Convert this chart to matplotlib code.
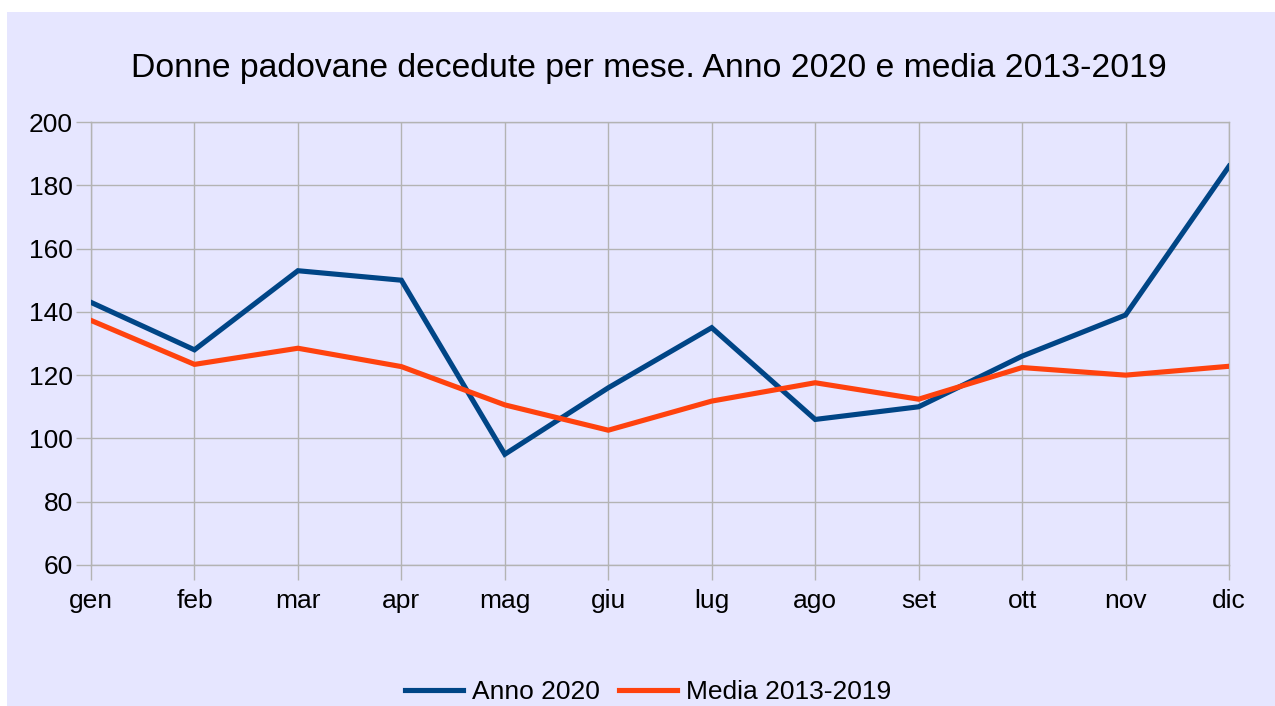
import matplotlib
matplotlib.use("Agg")
import matplotlib.pyplot as plt
from matplotlib.patches import Rectangle

plt.rcParams['font.family'] = ['Liberation Sans', 'DejaVu Sans']

mesi = ['gen', 'feb', 'mar', 'apr', 'mag', 'giu', 'lug', 'ago', 'set', 'ott', 'nov', 'dic']
anno_2020 = [143, 128, 153, 150, 95, 116, 135, 106, 110, 126, 139, 186]
media_2013_2019 = [137.3, 123.4, 128.5, 122.7, 110.6, 102.6, 111.8, 117.6, 112.4, 122.4, 120.0, 122.8]

bg = '#e6e6ff'
grid_c = '#b3b3b3'

W, H = 1275, 706
fig = plt.figure(figsize=(W / 100, H / 100), dpi=100)
fig.patch.set_facecolor('white')
fig.patches.append(Rectangle((7 / W, 0), 1 - 7 / W, 1 - 12 / H,
                             transform=fig.transFigure, facecolor=bg,
                             edgecolor='none', zorder=-10))

ax = fig.add_axes([91 / W, 1 - 565 / H, (1229 - 91) / W, (565 - 122) / H])
ax.set_facecolor(bg)

x = range(len(mesi))
ax.plot(x, anno_2020, color='#004586', lw=3.7, label='Anno 2020',
        solid_joinstyle='miter', zorder=3)
ax.plot(x, media_2013_2019, color='#ff420e', lw=3.7, label='Media 2013-2019',
        solid_joinstyle='miter', zorder=3)

ax.set_xlim(0, len(mesi) - 1)
ax.set_ylim(60, 200)
ax.set_yticks(range(60, 201, 20))
ax.set_xticks(list(x))
ax.set_xticklabels(mesi)
ax.grid(True, color=grid_c, lw=1)
ax.set_axisbelow(True)
for s in ax.spines.values():
    s.set_color(grid_c)
    s.set_linewidth(1)
ax.tick_params(axis='both', colors=grid_c, labelcolor='black', labelsize=19,
               length=11, width=1)
ax.tick_params(axis='x', pad=6)
ax.tick_params(axis='y', pad=2)

fig.text(649 / W, 1 - 68 / H, 'Donne padovane decedute per mese. Anno 2020 e media 2013-2019',
         ha='center', va='center', fontsize=24.3)

fig.legend(loc='center', bbox_to_anchor=(648 / W, 1 - 692 / H), ncol=2, frameon=False,
           fontsize=19, handlelength=2.2, handletextpad=0.35, columnspacing=0.7,
           borderpad=0, borderaxespad=0)

fig.savefig('out.png', dpi=100, facecolor='white')
